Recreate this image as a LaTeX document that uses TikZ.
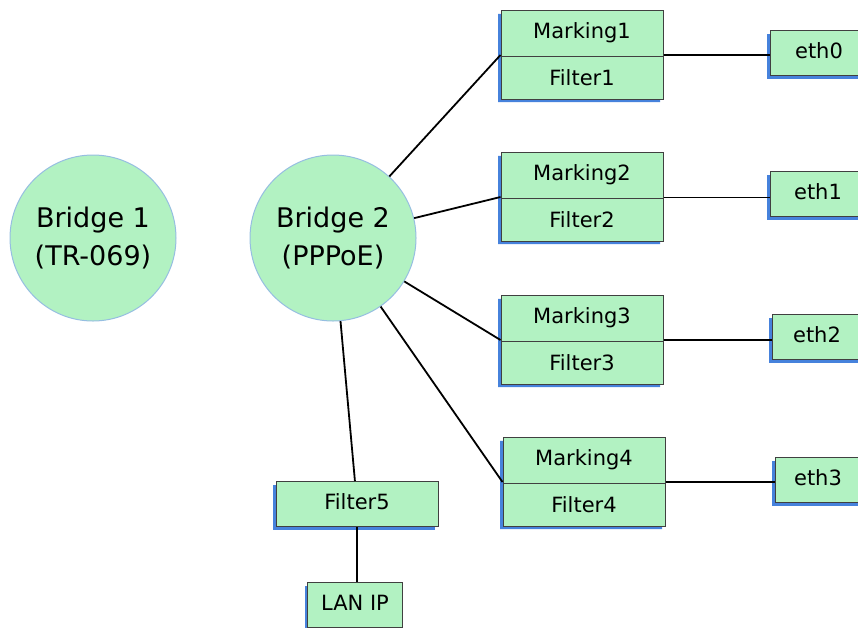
\documentclass[tikz,border=0pt]{standalone}
\usepackage{fontspec}
\setmainfont{DejaVu Sans}
\usetikzlibrary{shapes.multipart,shadows}
\definecolor{boxgreen}{RGB}{178,242,194}
\definecolor{shadowblue}{RGB}{70,130,220}
\definecolor{ringblue}{RGB}{150,190,225}

\begin{document}
\begin{tikzpicture}[x=1pt,y=-1pt]
\tikzstyle{bridge} = [circle, draw=ringblue, line width=1pt, fill=boxgreen,
minimum size=166pt, inner sep=0pt, align=center,
font=\fontsize{27}{38}\selectfont]
\tikzstyle{queue} = [rectangle split, rectangle split parts=2,
draw=black!75, line width=1pt, fill=boxgreen, minimum width=162pt,
text height=15pt, text depth=5pt, inner ysep=12.5pt,
font=\fontsize{21}{24}\selectfont,
drop shadow={shadow xshift=-3pt, shadow yshift=-3pt, fill=shadowblue, opacity=1}]
\tikzstyle{port} = [rectangle, draw=black!75, line width=1pt, fill=boxgreen,
minimum height=45pt, text height=15pt, text depth=5pt,
font=\fontsize{21}{24}\selectfont,
drop shadow={shadow xshift=-3pt, shadow yshift=-3pt, fill=shadowblue, opacity=1}]
\tikzstyle{link} = [draw, line width=1.8pt];
\useasboundingbox (0,0) rectangle (858,627);
% bridges
\node [bridge] (b1) at (93,238) {Bridge 1\\(TR-069)};
\node [bridge] (b2) at (333,238) {Bridge 2\\(PPPoE)};
% marking / filter boxes
\node [queue] (mf1) at (582,55) {Marking1\nodepart{two}Filter1};
\node [queue] (mf2) at (582,197) {Marking2\nodepart{two}Filter2};
\node [queue] (mf3) at (582,340) {Marking3\nodepart{two}Filter3};
\node [queue] (mf4) at (584,482) {Marking4\nodepart{two}Filter4};
% ports
\node [port, minimum width=98pt] (e0) at (819,53) {eth0};
\node [port, minimum width=96pt] (e1) at (818,194) {eth1};
\node [port, minimum width=90pt] (e2) at (817,337) {eth2};
\node [port, minimum width=86pt] (e3) at (818,480) {eth3};
% lan side
\node [port, minimum width=162pt] (f5) at (357,504) {Filter5};
\node [port, minimum width=95pt] (lan) at (355,605) {LAN IP};

\tikzstyle{every path}=[link]
\path (b2) -- (mf1.west);
\path (b2) -- (mf2.west);
\path (b2) -- (mf3.west);
\path (b2) -- (mf4.west);
\path (b2) -- (f5);
\path (f5) -- (f5 |- lan.north);
\path (mf1.east) -- (mf1.east -| e0.west);
\path [line width=1pt] (mf2.east) -- (mf2.east -| e1.west);
\path (mf3.east) -- (mf3.east -| e2.west);
\path (mf4.east) -- (mf4.east -| e3.west);
\end{tikzpicture}
\end{document}
